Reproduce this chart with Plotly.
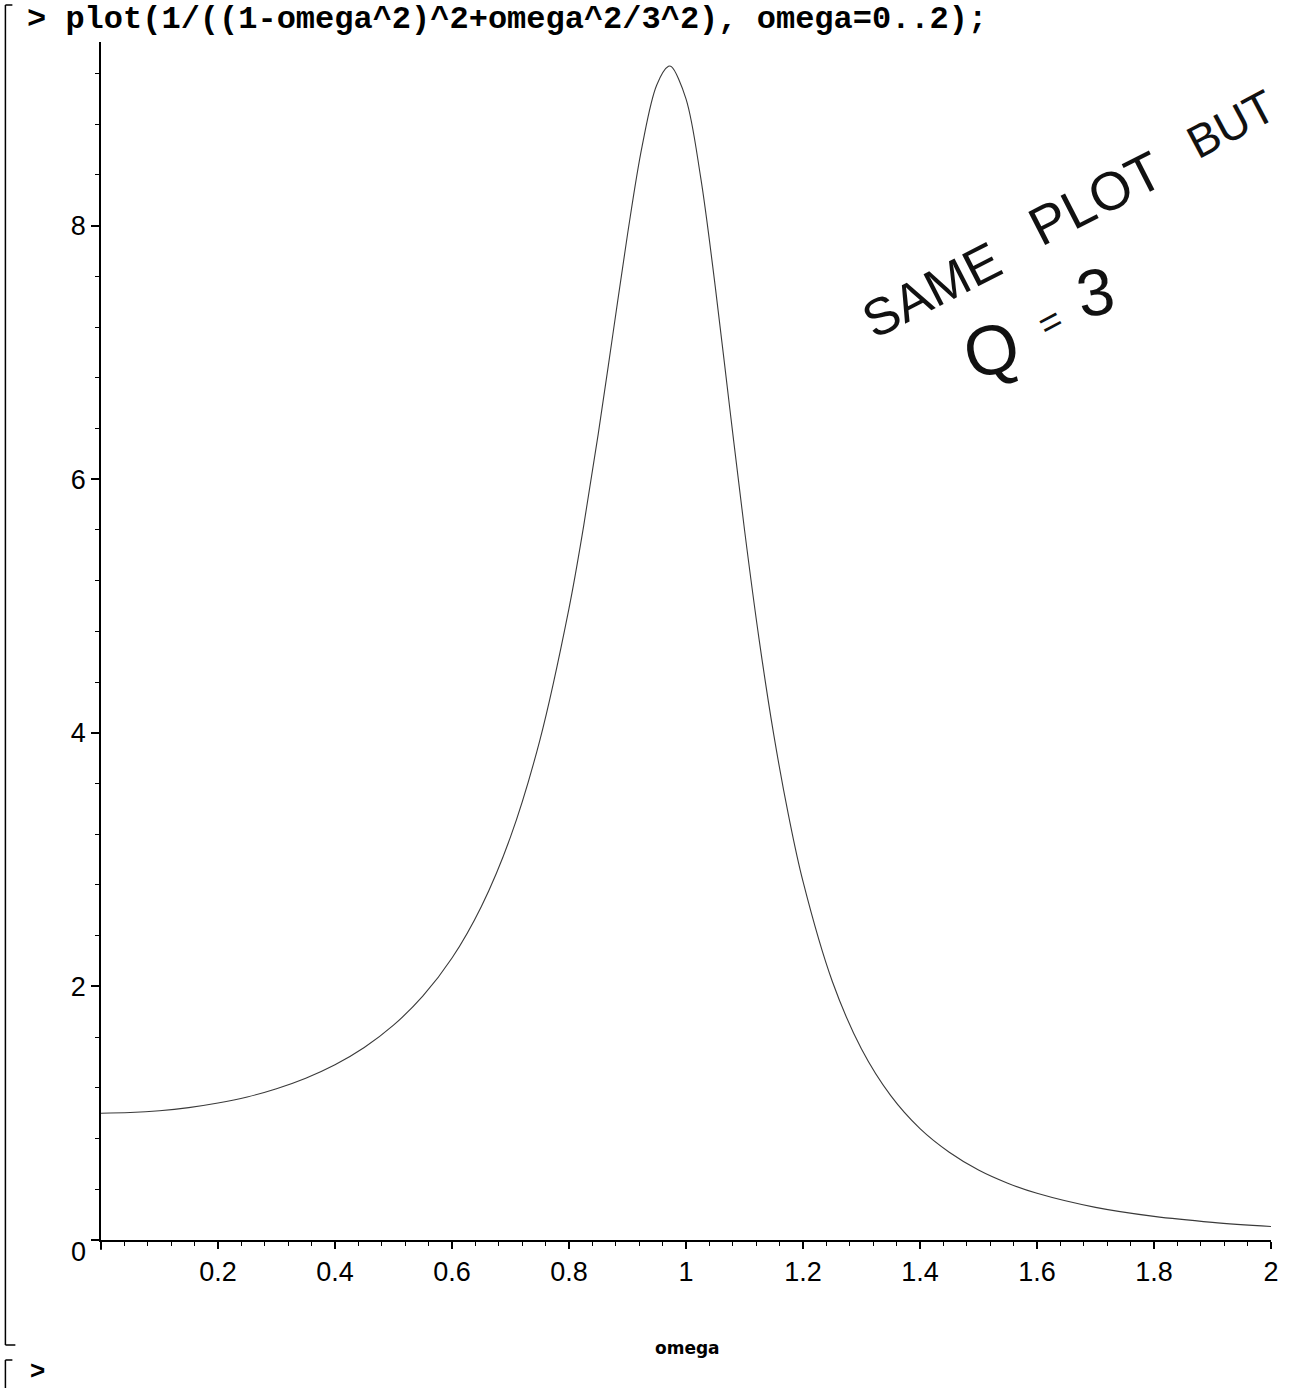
import plotly.graph_objects as go

# ---- data ----
omega = [0.0, 0.05, 0.1, 0.15, 0.2, 0.25, 0.3, 0.35, 0.4, 0.45, 0.5, 0.55, 0.6, 0.65, 0.7,
         0.75, 0.8, 0.825, 0.85, 0.875, 0.9, 0.925, 0.95, 0.97, 0.975, 1.0, 1.025, 1.05,
         1.075, 1.1, 1.125, 1.15, 1.175, 1.2, 1.25, 1.3, 1.35, 1.4, 1.45, 1.5, 1.55, 1.6,
         1.7, 1.8, 1.9, 2.0]
amplitude = [1.000, 1.005, 1.019, 1.044, 1.080, 1.128, 1.193, 1.276, 1.382, 1.518, 1.694,
             1.923, 2.224, 2.629, 3.179, 3.939, 4.982, 5.630, 6.358, 7.143, 7.930, 8.627,
             9.109, 9.256, 9.254, 9.000, 8.382, 7.519, 6.552, 5.601, 4.735, 3.985, 3.355,
             2.828, 2.041, 1.506, 1.138, 0.878, 0.692, 0.552, 0.448, 0.368, 0.257, 0.186,
             0.139, 0.106]

x_tick_vals = [0, 0.2, 0.4, 0.6, 0.8, 1.0, 1.2, 1.4, 1.6, 1.8, 2.0]
x_tick_text = ["", "0.2", "0.4", "0.6", "0.8", "1", "1.2", "1.4", "1.6", "1.8", "2"]
y_tick_vals = [0, 2, 4, 6, 8]
y_tick_text = ["", "2", "4", "6", "8"]

command_text = "> plot(1/((1-omega^2)^2+omega^2/3^2), omega=0..2);"
x_label = "omega"

# ---- layout helpers (pixel -> paper) ----
L, R, T, B = 101, 1276, 42, 1240
W, H = 1291, 1388


def X(px):
    return (px - L) / (R - L)


def Y(py):
    return (B - py) / (B - T)


fig = go.Figure()
fig.add_trace(go.Scatter(x=omega, y=amplitude, mode="lines",
                         line=dict(color="#3a3a3a", width=1.1, shape="spline"),
                         hoverinfo="skip", showlegend=False))

tick_font = dict(family="Liberation Sans, Arial, sans-serif", size=27, color="black")

fig.update_layout(
    width=W, height=H, autosize=False,
    margin=dict(l=L, r=W - R, t=T, b=H - B, pad=0),
    paper_bgcolor="white", plot_bgcolor="white",
    showlegend=False,
    xaxis=dict(range=[0, 2], showline=True, linecolor="black", linewidth=2,
               ticks="outside", ticklen=7, tickwidth=1.5, tickcolor="black",
               tickmode="array", tickvals=x_tick_vals, ticktext=x_tick_text,
               tickfont=tick_font, showgrid=False, zeroline=False,
               minor=dict(tickmode="linear", tick0=0, dtick=0.04, ticks="outside",
                          ticklen=4, tickwidth=1, tickcolor="black", showgrid=False)),
    yaxis=dict(range=[0, (B - T) / 126.8], showline=True, linecolor="black", linewidth=1.5,
               ticks="outside", ticklen=8, tickwidth=1.5, tickcolor="black",
               tickmode="array", tickvals=y_tick_vals, ticktext=y_tick_text,
               tickfont=tick_font, showgrid=False, zeroline=False,
               minor=dict(tickmode="linear", tick0=0, dtick=0.4, ticks="outside",
                          ticklen=4, tickwidth=1, tickcolor="black", showgrid=False)),
)

ann = []
# Maple command line
ann.append(dict(text="<b>" + command_text + "</b>", x=X(25), y=Y(19), xref="paper", yref="paper",
                xanchor="left", yanchor="middle", showarrow=False,
                font=dict(family="Liberation Mono, Courier New, monospace", size=32, color="black")))
# y "0" label (offset lower as in Maple)
ann.append(dict(text="0", x=X(88), y=Y(1252), xref="paper", yref="paper",
                xanchor="right", yanchor="middle", showarrow=False, font=tick_font))
# x axis label
ann.append(dict(text="<b>" + x_label + "</b>", x=X(690), y=Y(1348), xref="paper", yref="paper",
                xanchor="center", yanchor="middle", showarrow=False,
                font=dict(family="DejaVu Sans, sans-serif", size=17, color="black")))
# bottom prompt
ann.append(dict(text="<b>&gt;</b>", x=X(28), y=Y(1370), xref="paper", yref="paper",
                xanchor="left", yanchor="middle", showarrow=False,
                font=dict(family="Liberation Sans, Arial, sans-serif", size=26, color="black")))

hand = dict(family="Liberation Sans, Arial, sans-serif", color="#111111")
for txt, px, py, size, ang in [("SAME", 935, 290, 52, -27), ("PLOT", 1100, 198, 54, -27),
                               ("BUT", 1236, 124, 46, -28), ("Q", 995, 350, 70, -15),
                               ("=", 1054, 322, 38, -28), ("3", 1100, 292, 66, -10)]:
    ann.append(dict(text=txt, x=X(px), y=Y(py), xref="paper", yref="paper",
                    xanchor="center", yanchor="middle", showarrow=False, textangle=ang,
                    font=dict(size=size, **hand)))
fig.update_layout(annotations=ann)

shapes = []
line_k = dict(color="black", width=1.5)
for (x0, y0, x1, y1) in [(5, 5, 5, 1345), (5, 5, 12, 5), (5, 1345, 15, 1345),
                         (5, 1360, 5, 1388), (5, 1360, 12, 1360),
                         (101, 1240, 101, 1250), (92, 1240, 101, 1240)]:
    shapes.append(dict(type="line", xref="paper", yref="paper",
                       x0=X(x0), y0=Y(y0), x1=X(x1), y1=Y(y1), line=line_k))
fig.update_layout(shapes=shapes)

fig.write_html("out.html", config={"displayModeBar": False},
               post_script="document.body.style.margin='0';document.body.style.overflow='hidden';")
